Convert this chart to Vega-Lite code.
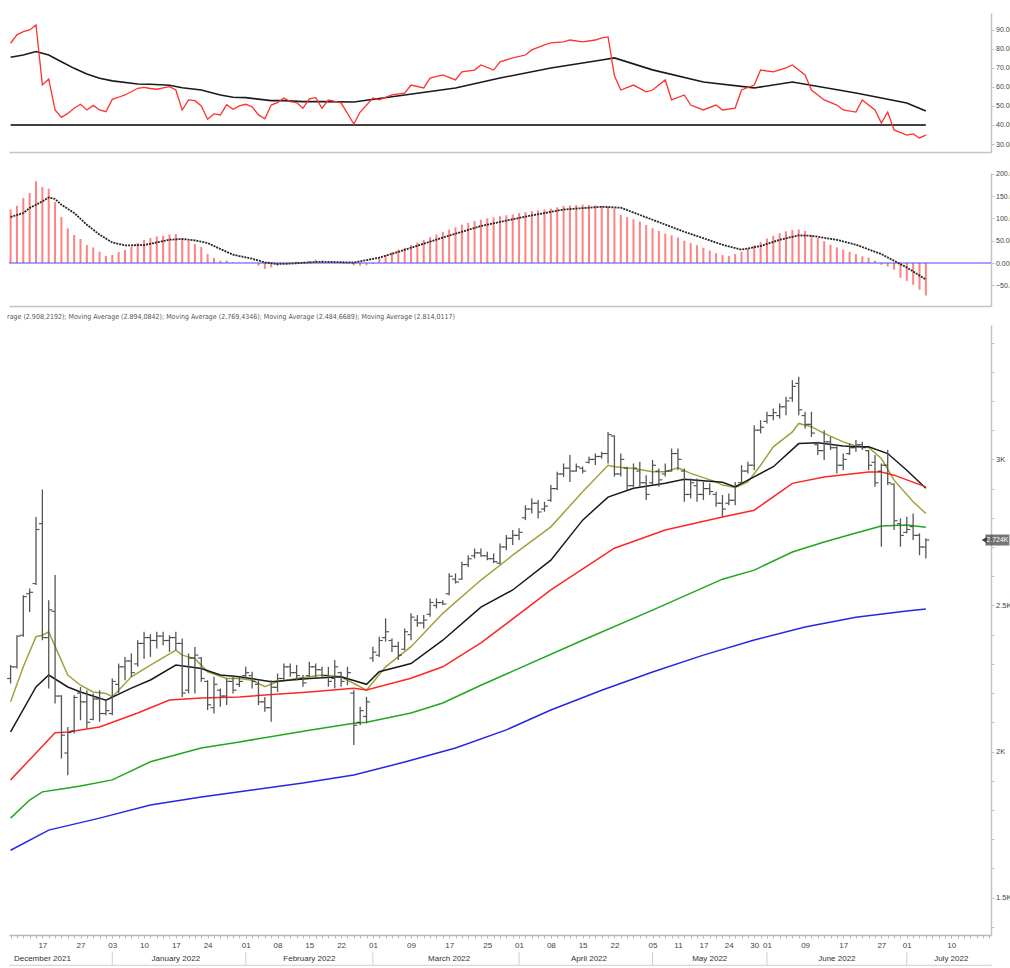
{
"$schema": "https://vega.github.io/schema/vega-lite/v6.json",
"padding": {"left": 6, "top": 13, "right": 0, "bottom": 0},
"background": "white",
"config": {
 "view": {"stroke": null},
 "font": "Liberation Sans",
 "axis": {"labelFont": "Liberation Sans", "labelFontSize": 8, "labelColor": "#444", "domainColor": "#c4c4c4", "domainWidth": 1.5, "tickColor": "#c4c4c4", "tickSize": 3, "grid": false, "labelPadding": 2, "labelOverlap": false},
 "axisRight": {"labelFontSize": 7, "labelPadding": 1.5}
},
"datasets": {
 "px": [
{"d":"2021-12-10","o":2250,"h":2296,"l":2233,"c":2290},
{"d":"2021-12-13","o":2290,"h":2398,"l":2284,"c":2395},
{"d":"2021-12-14","o":2398,"h":2535,"l":2393,"c":2530},
{"d":"2021-12-15","o":2540,"h":2558,"l":2478,"c":2545},
{"d":"2021-12-16","o":2575,"h":2803,"l":2570,"c":2760},
{"d":"2021-12-17","o":2780,"h":2897,"l":2381,"c":2390},
{"d":"2021-12-20","o":2390,"h":2518,"l":2216,"c":2485},
{"d":"2021-12-21","o":2480,"h":2604,"l":2164,"c":2190},
{"d":"2021-12-22","o":2190,"h":2193,"l":1976,"c":2056},
{"d":"2021-12-23","o":1995,"h":2084,"l":1919,"c":2065},
{"d":"2021-12-24","o":2070,"h":2193,"l":2062,"c":2185},
{"d":"2021-12-27","o":2200,"h":2221,"l":2107,"c":2170},
{"d":"2021-12-28","o":2170,"h":2210,"l":2079,"c":2100},
{"d":"2021-12-29","o":2110,"h":2199,"l":2107,"c":2180},
{"d":"2021-12-30","o":2180,"h":2210,"l":2102,"c":2130},
{"d":"2021-12-31","o":2130,"h":2176,"l":2124,"c":2140},
{"d":"2022-01-03","o":2130,"h":2250,"l":2124,"c":2240},
{"d":"2022-01-04","o":2230,"h":2301,"l":2199,"c":2290},
{"d":"2022-01-05","o":2290,"h":2324,"l":2244,"c":2310},
{"d":"2022-01-06","o":2310,"h":2336,"l":2256,"c":2270},
{"d":"2022-01-07","o":2300,"h":2381,"l":2290,"c":2370},
{"d":"2022-01-10","o":2370,"h":2410,"l":2318,"c":2390},
{"d":"2022-01-11","o":2390,"h":2402,"l":2324,"c":2380},
{"d":"2022-01-12","o":2380,"h":2410,"l":2353,"c":2395},
{"d":"2022-01-13","o":2395,"h":2410,"l":2364,"c":2380},
{"d":"2022-01-14","o":2380,"h":2398,"l":2341,"c":2390},
{"d":"2022-01-17","o":2390,"h":2410,"l":2347,"c":2370},
{"d":"2022-01-18","o":2370,"h":2387,"l":2187,"c":2200},
{"d":"2022-01-19","o":2210,"h":2336,"l":2199,"c":2320},
{"d":"2022-01-20","o":2320,"h":2358,"l":2199,"c":2330},
{"d":"2022-01-21","o":2320,"h":2324,"l":2239,"c":2250},
{"d":"2022-01-24","o":2240,"h":2244,"l":2142,"c":2160},
{"d":"2022-01-25","o":2150,"h":2256,"l":2130,"c":2230},
{"d":"2022-01-26","o":2210,"h":2216,"l":2153,"c":2190},
{"d":"2022-01-27","o":2190,"h":2250,"l":2159,"c":2240},
{"d":"2022-01-28","o":2240,"h":2261,"l":2199,"c":2210},
{"d":"2022-01-31","o":2230,"h":2256,"l":2221,"c":2240},
{"d":"2022-02-01","o":2260,"h":2290,"l":2250,"c":2270},
{"d":"2022-02-02","o":2260,"h":2273,"l":2216,"c":2240},
{"d":"2022-02-03","o":2230,"h":2244,"l":2159,"c":2170},
{"d":"2022-02-04","o":2170,"h":2187,"l":2136,"c":2150},
{"d":"2022-02-07","o":2150,"h":2244,"l":2102,"c":2220},
{"d":"2022-02-08","o":2220,"h":2267,"l":2204,"c":2250},
{"d":"2022-02-09","o":2250,"h":2301,"l":2244,"c":2290},
{"d":"2022-02-10","o":2290,"h":2301,"l":2256,"c":2270},
{"d":"2022-02-11","o":2270,"h":2296,"l":2244,"c":2260},
{"d":"2022-02-14","o":2250,"h":2262,"l":2222,"c":2235},
{"d":"2022-02-15","o":2260,"h":2307,"l":2256,"c":2290},
{"d":"2022-02-16","o":2290,"h":2301,"l":2250,"c":2280},
{"d":"2022-02-17","o":2280,"h":2290,"l":2250,"c":2260},
{"d":"2022-02-18","o":2260,"h":2290,"l":2222,"c":2240},
{"d":"2022-02-21","o":2250,"h":2313,"l":2216,"c":2290},
{"d":"2022-02-22","o":2270,"h":2273,"l":2222,"c":2240},
{"d":"2022-02-23","o":2250,"h":2290,"l":2227,"c":2270},
{"d":"2022-02-24","o":2200,"h":2210,"l":2022,"c":2090},
{"d":"2022-02-25","o":2100,"h":2153,"l":2090,"c":2140},
{"d":"2022-02-28","o":2120,"h":2187,"l":2096,"c":2170},
{"d":"2022-03-01","o":2320,"h":2359,"l":2307,"c":2340},
{"d":"2022-03-02","o":2330,"h":2393,"l":2324,"c":2380},
{"d":"2022-03-03","o":2390,"h":2456,"l":2376,"c":2410},
{"d":"2022-03-04","o":2380,"h":2387,"l":2341,"c":2360},
{"d":"2022-03-07","o":2360,"h":2376,"l":2313,"c":2330},
{"d":"2022-03-08","o":2350,"h":2421,"l":2347,"c":2410},
{"d":"2022-03-09","o":2400,"h":2473,"l":2381,"c":2460},
{"d":"2022-03-10","o":2450,"h":2467,"l":2427,"c":2440},
{"d":"2022-03-11","o":2440,"h":2467,"l":2421,"c":2450},
{"d":"2022-03-14","o":2470,"h":2524,"l":2461,"c":2510},
{"d":"2022-03-15","o":2500,"h":2524,"l":2490,"c":2510},
{"d":"2022-03-16","o":2510,"h":2518,"l":2501,"c":2505},
{"d":"2022-03-17","o":2540,"h":2610,"l":2535,"c":2600},
{"d":"2022-03-18","o":2590,"h":2610,"l":2575,"c":2580},
{"d":"2022-03-21","o":2590,"h":2650,"l":2587,"c":2640},
{"d":"2022-03-22","o":2640,"h":2672,"l":2632,"c":2660},
{"d":"2022-03-23","o":2670,"h":2695,"l":2661,"c":2680},
{"d":"2022-03-24","o":2680,"h":2695,"l":2667,"c":2670},
{"d":"2022-03-25","o":2670,"h":2684,"l":2655,"c":2660},
{"d":"2022-03-28","o":2660,"h":2678,"l":2645,"c":2650},
{"d":"2022-03-29","o":2645,"h":2712,"l":2640,"c":2700},
{"d":"2022-03-30","o":2700,"h":2741,"l":2689,"c":2730},
{"d":"2022-03-31","o":2730,"h":2758,"l":2707,"c":2740},
{"d":"2022-04-01","o":2740,"h":2764,"l":2724,"c":2750},
{"d":"2022-04-04","o":2800,"h":2843,"l":2792,"c":2830},
{"d":"2022-04-05","o":2830,"h":2866,"l":2815,"c":2850},
{"d":"2022-04-06","o":2850,"h":2861,"l":2798,"c":2820},
{"d":"2022-04-07","o":2830,"h":2855,"l":2821,"c":2840},
{"d":"2022-04-08","o":2860,"h":2912,"l":2855,"c":2900},
{"d":"2022-04-11","o":2900,"h":2958,"l":2895,"c":2950},
{"d":"2022-04-12","o":2950,"h":2986,"l":2940,"c":2970},
{"d":"2022-04-13","o":2970,"h":3015,"l":2923,"c":2960},
{"d":"2022-04-14","o":2960,"h":2986,"l":2958,"c":2975},
{"d":"2022-04-15","o":2970,"h":2975,"l":2952,"c":2960},
{"d":"2022-04-18","o":2990,"h":3009,"l":2986,"c":3000},
{"d":"2022-04-19","o":3000,"h":3020,"l":2981,"c":3010},
{"d":"2022-04-20","o":3010,"h":3026,"l":3003,"c":3020},
{"d":"2022-04-21","o":3020,"h":3094,"l":2986,"c":3085},
{"d":"2022-04-22","o":3080,"h":3083,"l":2941,"c":2950},
{"d":"2022-04-25","o":2950,"h":3020,"l":2941,"c":3000},
{"d":"2022-04-26","o":2970,"h":2975,"l":2895,"c":2910},
{"d":"2022-04-27","o":2910,"h":2986,"l":2906,"c":2970},
{"d":"2022-04-28","o":2960,"h":2992,"l":2906,"c":2920},
{"d":"2022-04-29","o":2920,"h":2946,"l":2861,"c":2880},
{"d":"2022-05-05","o":2920,"h":2998,"l":2912,"c":2980},
{"d":"2022-05-06","o":2960,"h":2969,"l":2906,"c":2930},
{"d":"2022-05-09","o":2950,"h":2986,"l":2941,"c":2960},
{"d":"2022-05-10","o":2960,"h":3037,"l":2958,"c":3020},
{"d":"2022-05-11","o":3020,"h":3037,"l":2963,"c":3000},
{"d":"2022-05-12","o":2960,"h":2969,"l":2855,"c":2880},
{"d":"2022-05-13","o":2880,"h":2935,"l":2866,"c":2920},
{"d":"2022-05-16","o":2910,"h":2935,"l":2855,"c":2880},
{"d":"2022-05-17","o":2880,"h":2923,"l":2861,"c":2900},
{"d":"2022-05-18","o":2900,"h":2918,"l":2878,"c":2890},
{"d":"2022-05-19","o":2880,"h":2889,"l":2838,"c":2850},
{"d":"2022-05-23","o":2850,"h":2878,"l":2804,"c":2830},
{"d":"2022-05-24","o":2850,"h":2883,"l":2843,"c":2860},
{"d":"2022-05-25","o":2860,"h":2923,"l":2843,"c":2910},
{"d":"2022-05-26","o":2920,"h":2980,"l":2918,"c":2960},
{"d":"2022-05-27","o":2960,"h":2992,"l":2952,"c":2980},
{"d":"2022-05-30","o":2980,"h":3117,"l":2963,"c":3100},
{"d":"2022-05-31","o":3100,"h":3134,"l":3089,"c":3110},
{"d":"2022-06-01","o":3130,"h":3163,"l":3123,"c":3150},
{"d":"2022-06-02","o":3150,"h":3174,"l":3134,"c":3160},
{"d":"2022-06-03","o":3150,"h":3191,"l":3140,"c":3180},
{"d":"2022-06-06","o":3180,"h":3214,"l":3151,"c":3200},
{"d":"2022-06-07","o":3210,"h":3271,"l":3197,"c":3250},
{"d":"2022-06-08","o":3260,"h":3283,"l":3151,"c":3170},
{"d":"2022-06-09","o":3150,"h":3163,"l":3106,"c":3120},
{"d":"2022-06-10","o":3120,"h":3163,"l":3077,"c":3090},
{"d":"2022-06-13","o":3050,"h":3060,"l":3015,"c":3030},
{"d":"2022-06-14","o":3030,"h":3100,"l":2998,"c":3060},
{"d":"2022-06-15","o":3060,"h":3077,"l":3032,"c":3040},
{"d":"2022-06-16","o":3040,"h":3049,"l":2952,"c":2980},
{"d":"2022-06-17","o":2980,"h":3020,"l":2963,"c":3000},
{"d":"2022-06-20","o":3020,"h":3055,"l":3015,"c":3040},
{"d":"2022-06-21","o":3040,"h":3066,"l":3026,"c":3050},
{"d":"2022-06-22","o":3050,"h":3060,"l":3032,"c":3040},
{"d":"2022-06-23","o":3030,"h":3032,"l":2963,"c":2980},
{"d":"2022-06-24","o":2990,"h":3015,"l":2906,"c":2920},
{"d":"2022-06-27","o":2960,"h":2986,"l":2701,"c":2980},
{"d":"2022-06-28","o":2980,"h":3032,"l":2912,"c":2920},
{"d":"2022-06-29","o":2915,"h":2918,"l":2758,"c":2790},
{"d":"2022-06-30","o":2780,"h":2798,"l":2701,"c":2740},
{"d":"2022-07-01","o":2750,"h":2804,"l":2747,"c":2760},
{"d":"2022-07-04","o":2770,"h":2815,"l":2724,"c":2740},
{"d":"2022-07-05","o":2740,"h":2747,"l":2672,"c":2700},
{"d":"2022-07-06","o":2700,"h":2730,"l":2661,"c":2724}
 ],
 "ma": [
{"d":"2021-12-10","k":"a","v":2170},{"d":"2021-12-14","k":"a","v":2290},{"d":"2021-12-16","k":"a","v":2393},{"d":"2021-12-17","k":"a","v":2398},{"d":"2021-12-20","k":"a","v":2410},{"d":"2021-12-21","k":"a","v":2360},{"d":"2021-12-23","k":"a","v":2262},{"d":"2021-12-27","k":"a","v":2227},{"d":"2021-12-29","k":"a","v":2204},{"d":"2021-12-31","k":"a","v":2199},{"d":"2022-01-03","k":"a","v":2187},{"d":"2022-01-06","k":"a","v":2256},{"d":"2022-01-11","k":"a","v":2296},{"d":"2022-01-17","k":"a","v":2347},{"d":"2022-01-18","k":"a","v":2330},{"d":"2022-01-20","k":"a","v":2318},{"d":"2022-01-24","k":"a","v":2273},{"d":"2022-01-27","k":"a","v":2250},{"d":"2022-01-31","k":"a","v":2250},{"d":"2022-02-02","k":"a","v":2244},{"d":"2022-02-04","k":"a","v":2222},{"d":"2022-02-08","k":"a","v":2239},{"d":"2022-02-11","k":"a","v":2250},{"d":"2022-02-17","k":"a","v":2262},{"d":"2022-02-22","k":"a","v":2256},{"d":"2022-02-28","k":"a","v":2210},{"d":"2022-03-03","k":"a","v":2290},{"d":"2022-03-09","k":"a","v":2359},{"d":"2022-03-16","k":"a","v":2473},{"d":"2022-03-24","k":"a","v":2587},{"d":"2022-03-31","k":"a","v":2672},{"d":"2022-04-08","k":"a","v":2769},{"d":"2022-04-15","k":"a","v":2889},{"d":"2022-04-21","k":"a","v":2980},{"d":"2022-04-22","k":"a","v":2975},{"d":"2022-04-27","k":"a","v":2969},{"d":"2022-05-05","k":"a","v":2958},{"d":"2022-05-09","k":"a","v":2958},{"d":"2022-05-11","k":"a","v":2971},{"d":"2022-05-13","k":"a","v":2952},{"d":"2022-05-19","k":"a","v":2923},{"d":"2022-05-23","k":"a","v":2912},{"d":"2022-05-25","k":"a","v":2904},{"d":"2022-05-27","k":"a","v":2923},{"d":"2022-05-31","k":"a","v":2980},{"d":"2022-06-02","k":"a","v":3043},{"d":"2022-06-07","k":"a","v":3094},{"d":"2022-06-08","k":"a","v":3123},{"d":"2022-06-10","k":"a","v":3112},{"d":"2022-06-14","k":"a","v":3089},{"d":"2022-06-17","k":"a","v":3060},{"d":"2022-06-21","k":"a","v":3046},{"d":"2022-06-23","k":"a","v":3041},{"d":"2022-06-27","k":"a","v":3003},{"d":"2022-06-29","k":"a","v":2929},{"d":"2022-07-04","k":"a","v":2855},{"d":"2022-07-06","k":"a","v":2815},
{"d":"2021-12-10","k":"b","v":2067},{"d":"2021-12-16","k":"b","v":2221},{"d":"2021-12-20","k":"b","v":2262},{"d":"2021-12-23","k":"b","v":2221},{"d":"2021-12-27","k":"b","v":2204},{"d":"2021-12-31","k":"b","v":2176},{"d":"2022-01-06","k":"b","v":2217},{"d":"2022-01-11","k":"b","v":2245},{"d":"2022-01-17","k":"b","v":2296},{"d":"2022-01-19","k":"b","v":2290},{"d":"2022-01-21","k":"b","v":2284},{"d":"2022-01-26","k":"b","v":2262},{"d":"2022-01-31","k":"b","v":2256},{"d":"2022-02-07","k":"b","v":2239},{"d":"2022-02-15","k":"b","v":2250},{"d":"2022-02-22","k":"b","v":2256},{"d":"2022-02-28","k":"b","v":2230},{"d":"2022-03-02","k":"b","v":2273},{"d":"2022-03-09","k":"b","v":2301},{"d":"2022-03-16","k":"b","v":2381},{"d":"2022-03-24","k":"b","v":2494},{"d":"2022-03-31","k":"b","v":2553},{"d":"2022-04-08","k":"b","v":2655},{"d":"2022-04-15","k":"b","v":2792},{"d":"2022-04-21","k":"b","v":2871},{"d":"2022-04-27","k":"b","v":2901},{"d":"2022-05-09","k":"b","v":2918},{"d":"2022-05-12","k":"b","v":2932},{"d":"2022-05-23","k":"b","v":2922},{"d":"2022-05-25","k":"b","v":2906},{"d":"2022-05-27","k":"b","v":2929},{"d":"2022-06-02","k":"b","v":2975},{"d":"2022-06-08","k":"b","v":3054},{"d":"2022-06-13","k":"b","v":3057},{"d":"2022-06-17","k":"b","v":3046},{"d":"2022-06-21","k":"b","v":3043},{"d":"2022-06-23","k":"b","v":3043},{"d":"2022-06-28","k":"b","v":3020},{"d":"2022-07-01","k":"b","v":2963},{"d":"2022-07-06","k":"b","v":2901},
{"d":"2021-12-10","k":"r","v":1903},{"d":"2021-12-16","k":"r","v":1995},{"d":"2021-12-21","k":"r","v":2064},{"d":"2021-12-23","k":"r","v":2067},{"d":"2021-12-30","k":"r","v":2084},{"d":"2022-01-07","k":"r","v":2132},{"d":"2022-01-14","k":"r","v":2176},{"d":"2022-01-21","k":"r","v":2183},{"d":"2022-01-31","k":"r","v":2187},{"d":"2022-02-15","k":"r","v":2204},{"d":"2022-02-24","k":"r","v":2217},{"d":"2022-02-28","k":"r","v":2211},{"d":"2022-03-09","k":"r","v":2251},{"d":"2022-03-16","k":"r","v":2290},{"d":"2022-03-24","k":"r","v":2372},{"d":"2022-03-25","k":"r","v":2388},{"d":"2022-04-08","k":"r","v":2553},{"d":"2022-04-22","k":"r","v":2696},{"d":"2022-05-09","k":"r","v":2758},{"d":"2022-05-23","k":"r","v":2803},{"d":"2022-05-30","k":"r","v":2826},{"d":"2022-06-07","k":"r","v":2918},{"d":"2022-06-14","k":"r","v":2940},{"d":"2022-06-23","k":"r","v":2957},{"d":"2022-06-27","k":"r","v":2957},{"d":"2022-06-29","k":"r","v":2946},{"d":"2022-07-06","k":"r","v":2906},
{"d":"2021-12-10","k":"g","v":1772},{"d":"2021-12-15","k":"g","v":1834},{"d":"2021-12-17","k":"g","v":1862},{"d":"2021-12-22","k":"g","v":1872},{"d":"2021-12-27","k":"g","v":1882},{"d":"2022-01-03","k":"g","v":1903},{"d":"2022-01-11","k":"g","v":1965},{"d":"2022-01-21","k":"g","v":2012},{"d":"2022-01-31","k":"g","v":2033},{"d":"2022-02-15","k":"g","v":2073},{"d":"2022-02-24","k":"g","v":2097},{"d":"2022-02-28","k":"g","v":2100},{"d":"2022-03-09","k":"g","v":2132},{"d":"2022-03-16","k":"g","v":2166},{"d":"2022-03-24","k":"g","v":2227},{"d":"2022-04-15","k":"g","v":2381},{"d":"2022-05-05","k":"g","v":2484},{"d":"2022-05-23","k":"g","v":2590},{"d":"2022-05-30","k":"g","v":2621},{"d":"2022-06-07","k":"g","v":2683},{"d":"2022-06-14","k":"g","v":2717},{"d":"2022-06-21","k":"g","v":2748},{"d":"2022-06-27","k":"g","v":2772},{"d":"2022-07-01","k":"g","v":2775},{"d":"2022-07-06","k":"g","v":2768},
{"d":"2021-12-10","k":"u","v":1662},{"d":"2021-12-20","k":"u","v":1731},{"d":"2021-12-30","k":"u","v":1772},{"d":"2022-01-11","k":"u","v":1817},{"d":"2022-01-21","k":"u","v":1844},{"d":"2022-02-02","k":"u","v":1868},{"d":"2022-02-14","k":"u","v":1892},{"d":"2022-02-24","k":"u","v":1920},{"d":"2022-03-08","k":"u","v":1964},{"d":"2022-03-18","k":"u","v":2012},{"d":"2022-03-30","k":"u","v":2074},{"d":"2022-04-08","k":"u","v":2142},{"d":"2022-04-20","k":"u","v":2210},{"d":"2022-05-05","k":"u","v":2272},{"d":"2022-05-17","k":"u","v":2330},{"d":"2022-05-30","k":"u","v":2382},{"d":"2022-06-09","k":"u","v":2426},{"d":"2022-06-21","k":"u","v":2460},{"d":"2022-07-01","k":"u","v":2481},{"d":"2022-07-06","k":"u","v":2488}
 ],
 "rsi": [
{"d":"2021-12-10","v":83.0},{"d":"2021-12-13","v":87.4},{"d":"2021-12-14","v":89.1},{"d":"2021-12-15","v":90.0},{"d":"2021-12-16","v":92.6},{"d":"2021-12-17","v":61.1},{"d":"2021-12-20","v":64.2},{"d":"2021-12-21","v":47.9},{"d":"2021-12-22","v":44.0},{"d":"2021-12-23","v":46.1},{"d":"2021-12-24","v":48.8},{"d":"2021-12-27","v":50.9},{"d":"2021-12-28","v":47.9},{"d":"2021-12-29","v":50.3},{"d":"2021-12-30","v":47.9},{"d":"2021-12-31","v":47.0},{"d":"2022-01-03","v":53.5},{"d":"2022-01-04","v":54.6},{"d":"2022-01-05","v":55.8},{"d":"2022-01-06","v":57.5},{"d":"2022-01-07","v":59.3},{"d":"2022-01-10","v":59.8},{"d":"2022-01-11","v":59.2},{"d":"2022-01-12","v":58.8},{"d":"2022-01-13","v":59.5},{"d":"2022-01-14","v":60.2},{"d":"2022-01-17","v":58.4},{"d":"2022-01-18","v":47.9},{"d":"2022-01-19","v":53.2},{"d":"2022-01-20","v":52.8},{"d":"2022-01-21","v":50.0},{"d":"2022-01-24","v":43.0},{"d":"2022-01-25","v":45.8},{"d":"2022-01-26","v":45.3},{"d":"2022-01-27","v":50.7},{"d":"2022-01-28","v":48.3},{"d":"2022-01-31","v":50.0},{"d":"2022-02-01","v":50.9},{"d":"2022-02-02","v":49.6},{"d":"2022-02-03","v":45.3},{"d":"2022-02-04","v":43.3},{"d":"2022-02-07","v":50.5},{"d":"2022-02-08","v":51.8},{"d":"2022-02-09","v":54.2},{"d":"2022-02-10","v":52.3},{"d":"2022-02-11","v":51.8},{"d":"2022-02-14","v":48.8},{"d":"2022-02-15","v":53.7},{"d":"2022-02-16","v":54.4},{"d":"2022-02-17","v":48.8},
{"d":"2022-02-18","v":53.2},{"d":"2022-02-22","v":51.6},{"d":"2022-02-24","v":40.5},{"d":"2022-02-25","v":46.8},{"d":"2022-03-01","v":54.2},{"d":"2022-03-02","v":53.2},{"d":"2022-03-04","v":55.8},{"d":"2022-03-08","v":56.8},{"d":"2022-03-09","v":61.0},{"d":"2022-03-11","v":59.5},{"d":"2022-03-14","v":64.7},{"d":"2022-03-16","v":66.3},{"d":"2022-03-18","v":63.7},{"d":"2022-03-21","v":67.9},{"d":"2022-03-23","v":68.9},{"d":"2022-03-24","v":71.6},{"d":"2022-03-28","v":68.9},{"d":"2022-03-29","v":73.2},{"d":"2022-03-31","v":75.3},{"d":"2022-04-04","v":76.8},{"d":"2022-04-05","v":79.5},{"d":"2022-04-07","v":82.1},{"d":"2022-04-08","v":83.2},{"d":"2022-04-12","v":83.7},{"d":"2022-04-13","v":84.7},{"d":"2022-04-15","v":83.7},{"d":"2022-04-19","v":84.7},{"d":"2022-04-20","v":85.8},{"d":"2022-04-21","v":86.3},{"d":"2022-04-22","v":66.0},{"d":"2022-04-25","v":58.4},{"d":"2022-04-27","v":61.0},{"d":"2022-04-29","v":57.4},{"d":"2022-05-05","v":58.4},{"d":"2022-05-09","v":63.7},{"d":"2022-05-10","v":53.2},{"d":"2022-05-12","v":55.8},{"d":"2022-05-13","v":50.5},{"d":"2022-05-17","v":47.9},{"d":"2022-05-19","v":50.5},{"d":"2022-05-23","v":47.9},{"d":"2022-05-25","v":48.9},{"d":"2022-05-26","v":58.4},{"d":"2022-05-30","v":61.0},{"d":"2022-05-31","v":68.9},{"d":"2022-06-02","v":67.9},{"d":"2022-06-06","v":70.0},{"d":"2022-06-07","v":71.6},{"d":"2022-06-09","v":66.3},{"d":"2022-06-10","v":58.4},{"d":"2022-06-14","v":53.2},{"d":"2022-06-16","v":50.5},{"d":"2022-06-17","v":47.9},{"d":"2022-06-21","v":46.8},{"d":"2022-06-22","v":53.2},{"d":"2022-06-24","v":47.9},{"d":"2022-06-27","v":41.0},{"d":"2022-06-28","v":46.8},{"d":"2022-06-29","v":37.4},{"d":"2022-07-01","v":34.7},{"d":"2022-07-04","v":35.3},{"d":"2022-07-05","v":33.2},{"d":"2022-07-06","v":34.7}
 ],
 "rsima": [
{"d":"2021-12-10","v":75.6},{"d":"2021-12-14","v":76.8},{"d":"2021-12-16","v":78.6},{"d":"2021-12-20","v":76.8},{"d":"2021-12-22","v":73.3},{"d":"2021-12-24","v":69.8},{"d":"2021-12-28","v":66.8},{"d":"2021-12-30","v":64.6},{"d":"2022-01-03","v":63.2},{"d":"2022-01-07","v":61.6},{"d":"2022-01-11","v":61.4},{"d":"2022-01-14","v":60.9},{"d":"2022-01-18","v":59.6},{"d":"2022-01-21","v":58.4},{"d":"2022-01-26","v":55.8},{"d":"2022-01-28","v":54.6},{"d":"2022-02-01","v":54.4},{"d":"2022-02-07","v":52.8},{"d":"2022-02-09","v":52.8},{"d":"2022-02-14","v":52.3},{"d":"2022-02-17","v":52.3},{"d":"2022-02-24","v":52.1},{"d":"2022-03-08","v":55.8},{"d":"2022-03-18","v":59.5},{"d":"2022-03-29","v":64.7},{"d":"2022-04-08","v":70.0},{"d":"2022-04-20","v":74.2},{"d":"2022-04-22","v":75.3},{"d":"2022-05-05","v":69.0},{"d":"2022-05-17","v":62.6},{"d":"2022-05-30","v":59.5},{"d":"2022-06-07","v":62.6},{"d":"2022-06-21","v":56.8},{"d":"2022-07-01","v":51.6},{"d":"2022-07-06","v":47.4}
 ],
 "hist": [
{"d":"2021-12-10","v":119.5},{"d":"2021-12-13","v":128.5},{"d":"2021-12-14","v":145.7},{"d":"2021-12-15","v":156.9},{"d":"2021-12-16","v":183.0},{"d":"2021-12-17","v":170.4},{"d":"2021-12-20","v":166.6},{"d":"2021-12-21","v":136.8},{"d":"2021-12-22","v":103.1},{"d":"2021-12-23","v":77.6},{"d":"2021-12-24","v":62.8},{"d":"2021-12-27","v":53.8},{"d":"2021-12-28","v":40.4},{"d":"2021-12-29","v":35.0},{"d":"2021-12-30","v":25.3},{"d":"2021-12-31","v":15.7},{"d":"2022-01-03","v":17.9},{"d":"2022-01-04","v":24.7},{"d":"2022-01-05","v":29.1},{"d":"2022-01-06","v":35.9},{"d":"2022-01-07","v":44.8},{"d":"2022-01-10","v":51.6},{"d":"2022-01-11","v":56.1},{"d":"2022-01-12","v":59.6},{"d":"2022-01-13","v":61.2},{"d":"2022-01-14","v":64.1},{"d":"2022-01-17","v":65.0},{"d":"2022-01-18","v":54.5},{"d":"2022-01-19","v":49.3},{"d":"2022-01-20","v":42.6},{"d":"2022-01-21","v":35.9},{"d":"2022-01-24","v":20.2},{"d":"2022-01-25","v":11.2},{"d":"2022-01-26","v":5.2},{"d":"2022-01-27","v":5.2},{"d":"2022-01-28","v":1.3},{"d":"2022-01-31","v":1.3},{"d":"2022-02-01","v":1},{"d":"2022-02-02","v":1},{"d":"2022-02-03","v":-6},{"d":"2022-02-04","v":-13.5},{"d":"2022-02-07","v":-9.8},{"d":"2022-02-08","v":-6},{"d":"2022-02-09","v":0.5},{"d":"2022-02-10","v":0.5},{"d":"2022-02-11","v":3},{"d":"2022-02-14","v":2},{"d":"2022-02-15","v":4.5},{"d":"2022-02-16","v":7.5},
{"d":"2022-02-17","v":3},{"d":"2022-02-18","v":2},{"d":"2022-02-21","v":1},{"d":"2022-02-23","v":-1},{"d":"2022-02-24","v":-5},{"d":"2022-02-25","v":-6},{"d":"2022-02-28","v":-5},{"d":"2022-03-01","v":-2},{"d":"2022-03-02","v":10},{"d":"2022-03-03","v":18},{"d":"2022-03-04","v":24},{"d":"2022-03-07","v":30},{"d":"2022-03-08","v":34},{"d":"2022-03-09","v":40},{"d":"2022-03-10","v":46},{"d":"2022-03-11","v":52},{"d":"2022-03-14","v":58},{"d":"2022-03-15","v":64},{"d":"2022-03-16","v":70},{"d":"2022-03-17","v":75},{"d":"2022-03-18","v":80},{"d":"2022-03-21","v":86},{"d":"2022-03-22","v":90},{"d":"2022-03-23","v":94},{"d":"2022-03-24","v":97},{"d":"2022-03-25","v":100},{"d":"2022-03-28","v":102},{"d":"2022-03-29","v":105},{"d":"2022-03-30","v":107},{"d":"2022-03-31","v":109},{"d":"2022-04-01","v":112},{"d":"2022-04-04","v":114},{"d":"2022-04-05","v":116},{"d":"2022-04-06","v":118},{"d":"2022-04-07","v":120},{"d":"2022-04-08","v":122},{"d":"2022-04-11","v":125},{"d":"2022-04-12","v":128},{"d":"2022-04-13","v":129},{"d":"2022-04-14","v":130},{"d":"2022-04-15","v":131},{"d":"2022-04-18","v":130},{"d":"2022-04-19","v":129},{"d":"2022-04-20","v":128},{"d":"2022-04-21","v":126},{"d":"2022-04-22","v":122},{"d":"2022-04-25","v":108},{"d":"2022-04-26","v":103},{"d":"2022-04-27","v":98},{"d":"2022-04-28","v":93},{"d":"2022-04-29","v":85},{"d":"2022-05-05","v":78},{"d":"2022-05-06","v":72},{"d":"2022-05-09","v":66},{"d":"2022-05-10","v":62},{"d":"2022-05-11","v":57},{"d":"2022-05-12","v":50},{"d":"2022-05-13","v":45},{"d":"2022-05-16","v":40},{"d":"2022-05-17","v":34},{"d":"2022-05-18","v":28},{"d":"2022-05-19","v":22},{"d":"2022-05-23","v":18},{"d":"2022-05-24","v":16},{"d":"2022-05-25","v":20},{"d":"2022-05-26","v":25},{"d":"2022-05-27","v":32},{"d":"2022-05-30","v":40},{"d":"2022-05-31","v":47},{"d":"2022-06-01","v":55},{"d":"2022-06-02","v":61},{"d":"2022-06-03","v":67},{"d":"2022-06-06","v":71},{"d":"2022-06-07","v":74},{"d":"2022-06-08","v":75},{"d":"2022-06-09","v":72},{"d":"2022-06-10","v":63},{"d":"2022-06-13","v":56},{"d":"2022-06-14","v":49},{"d":"2022-06-15","v":41},{"d":"2022-06-16","v":35},{"d":"2022-06-17","v":30},{"d":"2022-06-20","v":25},{"d":"2022-06-21","v":20},{"d":"2022-06-22","v":15},{"d":"2022-06-23","v":12},{"d":"2022-06-24","v":5},{"d":"2022-06-27","v":-4},{"d":"2022-06-28","v":-8},{"d":"2022-06-29","v":-15},{"d":"2022-06-30","v":-33},{"d":"2022-07-01","v":-40},{"d":"2022-07-04","v":-49},{"d":"2022-07-05","v":-60},{"d":"2022-07-06","v":-73}
 ],
 "sig": [
{"d":"2021-12-10","v":103.1},{"d":"2021-12-14","v":112.1},{"d":"2021-12-15","v":123.3},{"d":"2021-12-17","v":138.1},{"d":"2021-12-20","v":147.1},{"d":"2021-12-21","v":143.5},{"d":"2021-12-22","v":130.7},{"d":"2021-12-24","v":112.1},{"d":"2021-12-28","v":85.9},{"d":"2021-12-30","v":63.4},{"d":"2022-01-03","v":46.2},{"d":"2022-01-05","v":39.5},{"d":"2022-01-10","v":40.2},{"d":"2022-01-12","v":46.2},{"d":"2022-01-14","v":52.2},{"d":"2022-01-18","v":53.8},{"d":"2022-01-20","v":50.7},{"d":"2022-01-24","v":44.8},{"d":"2022-01-26","v":31.4},{"d":"2022-01-28","v":18.6},{"d":"2022-02-02","v":9.6},{"d":"2022-02-04","v":1.4},{"d":"2022-02-08","v":-2.3},{"d":"2022-02-10","v":-1.5},{"d":"2022-02-15","v":1.4},{"d":"2022-02-17","v":2.9},{"d":"2022-02-24","v":1},{"d":"2022-03-02","v":12},{"d":"2022-03-07","v":25},{"d":"2022-03-16","v":57},{"d":"2022-03-24","v":83},{"d":"2022-04-04","v":104},{"d":"2022-04-12","v":120},{"d":"2022-04-20","v":126},{"d":"2022-04-25","v":124},{"d":"2022-05-05","v":97},{"d":"2022-05-12","v":70},{"d":"2022-05-23","v":41},{"d":"2022-05-26","v":30},{"d":"2022-05-31","v":38},{"d":"2022-06-03","v":52},{"d":"2022-06-08","v":62},{"d":"2022-06-10","v":61},{"d":"2022-06-16","v":52},{"d":"2022-06-21","v":41},{"d":"2022-06-27","v":20},{"d":"2022-06-29","v":5},{"d":"2022-07-01","v":-10},{"d":"2022-07-06","v":-37}
 ],
 "future": [{"d":"2022-07-07"},{"d":"2022-07-08"},{"d":"2022-07-09"},{"d":"2022-07-10"},{"d":"2022-07-11"},{"d":"2022-07-12"},{"d":"2022-07-13"},{"d":"2022-07-14"},{"d":"2022-07-15"},{"d":"2022-07-16"}],
 "months": [{"d":"2021-12-17","t":"December 2021"},{"d":"2022-01-17","t":"January 2022"},{"d":"2022-02-15","t":"February 2022"},{"d":"2022-03-17","t":"March 2022"},{"d":"2022-04-18","t":"April 2022"},{"d":"2022-05-18","t":"May 2022"},{"d":"2022-06-16","t":"June 2022"},{"d":"2022-07-10","t":"July 2022"}],
 "seps": [{"d":"2022-01-03"},{"d":"2022-02-01"},{"d":"2022-03-01"},{"d":"2022-04-01"},{"d":"2022-05-05"},{"d":"2022-06-01"},{"d":"2022-07-01"}],
 "last": [{"t":"2.724K"}]
},
"spacing": 7,
"vconcat": [
 {
  "spacing": 17,
  "vconcat": [
   {
    "width": 982, "height": 139,
    "layer": [
     {"data": {"name": "px"}, "mark": {"type": "point", "opacity": 0, "size": 0},
      "encoding": {"x": {"field": "d", "type": "ordinal", "scale": {"type": "point", "padding": 0.25}, "title": null, "axis": {"labels": false, "ticks": false, "domainColor": "#c4c4c4"}}}},
     {"data": {"name": "future"}, "mark": {"type": "point", "opacity": 0, "size": 0},
      "encoding": {"x": {"field": "d", "type": "ordinal", "scale": {"type": "point", "padding": 0.25}, "title": null, "axis": {"labels": false, "ticks": false, "domainColor": "#c4c4c4"}}}},
     {"data": {"name": "rsi"}, "mark": {"type": "line", "color": "#000000", "strokeWidth": 1.5},
      "encoding": {
       "x": {"field": "d", "type": "ordinal", "scale": {"type": "point", "padding": 0.25}, "title": null, "axis": {"labels": false, "ticks": false, "domainColor": "#c4c4c4"}},
       "y": {"datum": 40, "type": "quantitative", "scale": {"domain": [25.8, 98.9], "nice": false, "zero": false}, "title": null, "axis": {"orient": "right", "values": [30,40,50,60,70,80,90], "format": ".2f"}}}},
     {"data": {"name": "rsima"}, "mark": {"type": "line", "color": "#1a1a1a", "strokeWidth": 1.6},
      "encoding": {
       "x": {"field": "d", "type": "ordinal", "scale": {"type": "point", "padding": 0.25}, "title": null, "axis": {"labels": false, "ticks": false, "domainColor": "#c4c4c4"}},
       "y": {"field": "v", "type": "quantitative", "scale": {"domain": [25.8, 98.9], "nice": false, "zero": false}, "title": null, "axis": {"orient": "right", "values": [30,40,50,60,70,80,90], "format": ".2f"}}}},
     {"data": {"name": "rsi"}, "mark": {"type": "line", "color": "#ff3030", "strokeWidth": 1.3},
      "encoding": {
       "x": {"field": "d", "type": "ordinal", "scale": {"type": "point", "padding": 0.25}, "title": null, "axis": {"labels": false, "ticks": false, "domainColor": "#c4c4c4"}},
       "y": {"field": "v", "type": "quantitative", "scale": {"domain": [25.8, 98.9], "nice": false, "zero": false}, "title": null, "axis": {"orient": "right", "values": [30,40,50,60,70,80,90], "format": ".2f"}}}}
    ]
   },
   {
    "width": 982, "height": 133,
    "layer": [
     {"data": {"name": "px"}, "mark": {"type": "point", "opacity": 0, "size": 0},
      "encoding": {"x": {"field": "d", "type": "ordinal", "scale": {"type": "point", "padding": 0.25}, "title": null, "axis": {"labels": false, "ticks": false, "domainColor": "#c4c4c4"}}}},
     {"data": {"name": "future"}, "mark": {"type": "point", "opacity": 0, "size": 0},
      "encoding": {"x": {"field": "d", "type": "ordinal", "scale": {"type": "point", "padding": 0.25}, "title": null, "axis": {"labels": false, "ticks": false, "domainColor": "#c4c4c4"}}}},
     {"data": {"name": "hist"}, "mark": {"type": "rule", "color": "#ff4d4d", "strokeWidth": 2, "opacity": 0.7},
      "encoding": {
       "x": {"field": "d", "type": "ordinal", "scale": {"type": "point", "padding": 0.25}, "title": null, "axis": {"labels": false, "ticks": false, "domainColor": "#c4c4c4"}},
       "y": {"field": "v", "type": "quantitative", "scale": {"domain": [-96.4, 201.8], "nice": false, "zero": false}, "title": null,
             "axis": {"orient": "right", "values": [-50,0,50,100,150,200], "labelExpr": "datum.value == 0 ? '0.000' : ((abs(datum.value) >= 100 || datum.value < 0) ? format(datum.value, '.1f') : format(datum.value, '.2f'))"}},
       "y2": {"datum": 0}}},
     {"data": {"values": [{}]}, "mark": {"type": "rule", "color": "#4a4aff", "strokeWidth": 1.2},
      "encoding": {"y": {"datum": 0, "type": "quantitative", "scale": {"domain": [-96.4, 201.8], "nice": false, "zero": false}, "title": null,
             "axis": {"orient": "right", "values": [-50,0,50,100,150,200], "labelExpr": "datum.value == 0 ? '0.000' : ((abs(datum.value) >= 100 || datum.value < 0) ? format(datum.value, '.1f') : format(datum.value, '.2f'))"}}}},
     {"data": {"name": "sig"}, "mark": {"type": "line", "color": "#262626", "strokeWidth": 1.8, "strokeDash": [2, 1]},
      "encoding": {
       "x": {"field": "d", "type": "ordinal", "scale": {"type": "point", "padding": 0.25}, "title": null, "axis": {"labels": false, "ticks": false, "domainColor": "#c4c4c4"}},
       "y": {"field": "v", "type": "quantitative", "scale": {"domain": [-96.4, 201.8], "nice": false, "zero": false}, "title": null,
             "axis": {"orient": "right", "values": [-50,0,50,100,150,200], "labelExpr": "datum.value == 0 ? '0.000' : ((abs(datum.value) >= 100 || datum.value < 0) ? format(datum.value, '.1f') : format(datum.value, '.2f'))"}}}}
    ]
   }
  ]
 },
 {
  "spacing": 2,
  "vconcat": [
   {
    "width": 982, "height": 610,
    "title": {"text": "rage (2.908,2192); Moving Average (2.894,0842); Moving Average (2.769,4346); Moving Average (2.484,6689); Moving Average (2.814,0117)", "anchor": "start", "fontSize": 7, "fontWeight": "normal", "color": "#555555", "offset": 5, "font": "DejaVu Sans Condensed, Liberation Sans, sans-serif"},
    "encoding": {
     "x": {"field": "d", "type": "ordinal", "scale": {"type": "point", "padding": 0.25}, "title": null,
        "axis": {"orient": "bottom", "labelAngle": 0, "labelBound": false, "labelFlush": false, "labelFontSize": 8, "labelPadding": 3, "domainColor": "#b8b8b8", "tickColor": "#b8b8b8", "tickSize": 3,
          "labelExpr": "indexof(['2021-12-17','2021-12-27','2022-01-03','2022-01-10','2022-01-17','2022-01-24','2022-02-01','2022-02-08','2022-02-15','2022-02-22','2022-03-01','2022-03-09','2022-03-17','2022-03-25','2022-04-01','2022-04-08','2022-04-15','2022-04-22','2022-05-05','2022-05-11','2022-05-17','2022-05-24','2022-05-30','2022-06-01','2022-06-09','2022-06-17','2022-06-27','2022-07-01','2022-07-10'], datum.value) >= 0 ? slice(datum.value, 8) : ''"}}
    },
    "layer": [
     {"data": {"name": "future"}, "mark": {"type": "point", "opacity": 0, "size": 0}},
     {"data": {"name": "ma"}, "mark": {"type": "line", "strokeWidth": 1.5},
      "encoding": {
       "y": {"field": "v", "type": "quantitative", "scale": {"domain": [1372, 3460], "nice": false, "zero": false}, "title": null,
             "axis": {"orient": "right", "labelFontSize": 7.5, "values": [1400,1500,1600,1700,1800,1900,2000,2100,2200,2300,2400,2500,2600,2700,2800,2900,3000,3100,3200,3300,3400], "labelExpr": "datum.value % 500 == 0 ? (datum.value / 1000) + 'K' : ''"}},
       "color": {"field": "k", "type": "nominal", "legend": null, "scale": {"domain": ["u","g","r","b","a"], "range": ["#2626e6","#1ea81e","#ff2626","#1a1a1a","#a3a03c"]}}}},
     {"data": {"name": "px"}, "mark": {"type": "rule", "color": "#555555", "strokeWidth": 1.3},
      "encoding": {
       "y": {"field": "l", "type": "quantitative", "scale": {"domain": [1372, 3460], "nice": false, "zero": false}, "title": null,
             "axis": {"orient": "right", "labelFontSize": 7.5, "values": [1400,1500,1600,1700,1800,1900,2000,2100,2200,2300,2400,2500,2600,2700,2800,2900,3000,3100,3200,3300,3400], "labelExpr": "datum.value % 500 == 0 ? (datum.value / 1000) + 'K' : ''"}},
       "y2": {"field": "h"}}},
     {"data": {"name": "px"}, "mark": {"type": "tick", "orient": "horizontal", "color": "#111111", "size": 3, "thickness": 1.2, "xOffset": -2},
      "encoding": {
       "y": {"field": "o", "type": "quantitative", "scale": {"domain": [1372, 3460], "nice": false, "zero": false}, "title": null,
             "axis": {"orient": "right", "labelFontSize": 7.5, "values": [1400,1500,1600,1700,1800,1900,2000,2100,2200,2300,2400,2500,2600,2700,2800,2900,3000,3100,3200,3300,3400], "labelExpr": "datum.value % 500 == 0 ? (datum.value / 1000) + 'K' : ''"}}}},
     {"data": {"name": "px"}, "mark": {"type": "tick", "orient": "horizontal", "color": "#111111", "size": 3, "thickness": 1.2, "xOffset": 2},
      "encoding": {
       "y": {"field": "c", "type": "quantitative", "scale": {"domain": [1372, 3460], "nice": false, "zero": false}, "title": null,
             "axis": {"orient": "right", "labelFontSize": 7.5, "values": [1400,1500,1600,1700,1800,1900,2000,2100,2200,2300,2400,2500,2600,2700,2800,2900,3000,3100,3200,3300,3400], "labelExpr": "datum.value % 500 == 0 ? (datum.value / 1000) + 'K' : ''"}}}},
     {"data": {"name": "last"},
      "encoding": {
       "x": {"datum": "2022-07-16", "type": "ordinal", "scale": {"type": "point", "padding": 0.25}, "title": null,
        "axis": {"orient": "bottom", "labelAngle": 0, "labelBound": false, "labelFlush": false, "labelFontSize": 8, "labelPadding": 3, "domainColor": "#b8b8b8", "tickColor": "#b8b8b8", "tickSize": 3,
          "labelExpr": "indexof(['2021-12-17','2021-12-27','2022-01-03','2022-01-10','2022-01-17','2022-01-24','2022-02-01','2022-02-08','2022-02-15','2022-02-22','2022-03-01','2022-03-09','2022-03-17','2022-03-25','2022-04-01','2022-04-08','2022-04-15','2022-04-22','2022-05-05','2022-05-11','2022-05-17','2022-05-24','2022-05-30','2022-06-01','2022-06-09','2022-06-17','2022-06-27','2022-07-01','2022-07-10'], datum.value) >= 0 ? slice(datum.value, 8) : ''"}},
       "y": {"datum": 2724, "type": "quantitative", "scale": {"domain": [1372, 3460], "nice": false, "zero": false}, "title": null,
             "axis": {"orient": "right", "labelFontSize": 7.5, "values": [1400,1500,1600,1700,1800,1900,2000,2100,2200,2300,2400,2500,2600,2700,2800,2900,3000,3100,3200,3300,3400], "labelExpr": "datum.value % 500 == 0 ? (datum.value / 1000) + 'K' : ''"}}},
      "layer": [
       {"mark": {"type": "tick", "orient": "horizontal", "color": "#3a3a3a", "size": 24, "thickness": 11, "xOffset": 8}},
       {"mark": {"type": "point", "shape": "triangle-left", "filled": true, "size": 40, "color": "#3a3a3a", "opacity": 1, "xOffset": -5}},
       {"mark": {"type": "text", "color": "white", "fontSize": 7, "xOffset": 8, "font": "Liberation Sans"}, "encoding": {"text": {"field": "t"}}}
      ]}
    ]
   },
   {
    "width": 982, "height": 13,
    "encoding": {"x": {"field": "d", "type": "ordinal", "scale": {"type": "point", "padding": 0.25}, "title": null, "axis": {"labels": false, "ticks": false, "domainColor": "#d8d8d8"}}},
    "layer": [
     {"data": {"name": "px"}, "mark": {"type": "point", "opacity": 0, "size": 0}},
     {"data": {"name": "future"}, "mark": {"type": "point", "opacity": 0, "size": 0}},
     {"data": {"name": "seps"}, "mark": {"type": "rule", "color": "#cfcfcf", "strokeWidth": 1}},
     {"data": {"name": "months"}, "mark": {"type": "text", "fontSize": 8, "color": "#333333", "font": "Liberation Sans"}, "encoding": {"text": {"field": "t"}}}
    ]
   }
  ]
 }
]
}
